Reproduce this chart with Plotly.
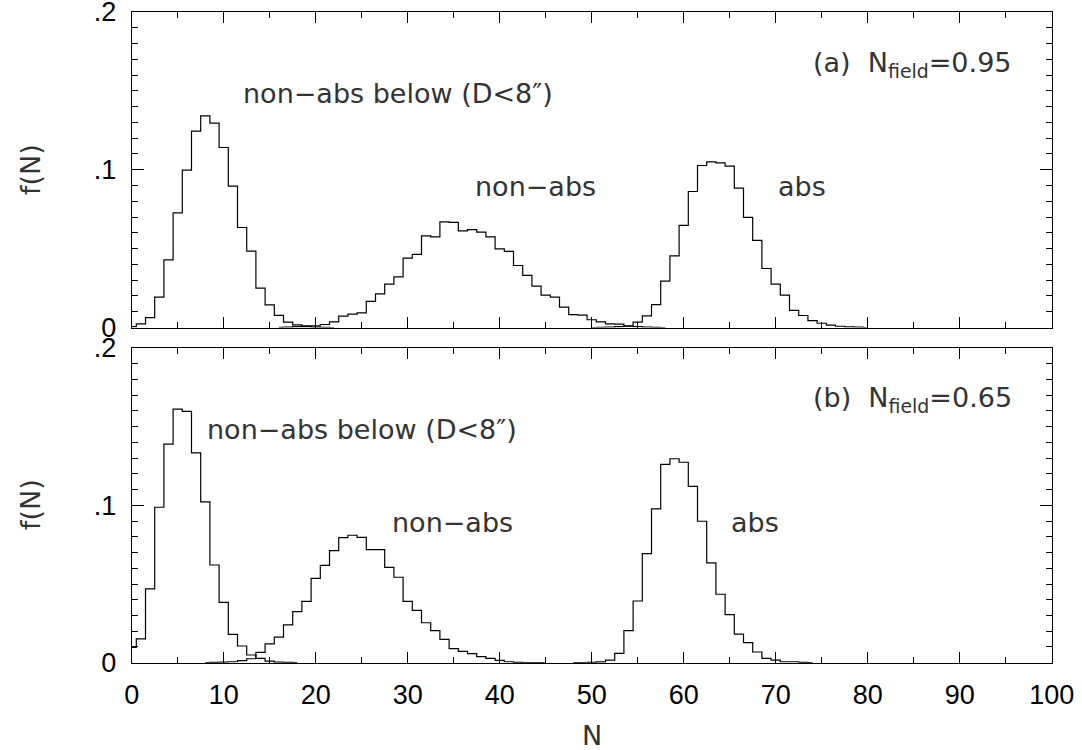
import plotly.graph_objects as go

# ---------------- data (bin centres N, fraction f(N)) ----------------
# Panel (a)  N_field = 0.95
below_a_start = 0
below_a = [0.0006, 0.0023, 0.0063, 0.0192, 0.0429, 0.0727, 0.0998, 0.1245, 0.1342, 0.1296,
           0.1141, 0.0896, 0.0634, 0.0484, 0.0249, 0.0144, 0.0077, 0.0034, 0.0017, 0.0006,
           0.0003, 0.0001, 0.0]
nonabs_a_start = 16
nonabs_a = [0.0001, 0.0003, 0.0005, 0.0010, 0.0010, 0.0019, 0.0036, 0.0072, 0.0085, 0.0093,
            0.0165, 0.0213, 0.0275, 0.0321, 0.0440, 0.0463, 0.0581, 0.0575, 0.0670, 0.0666,
            0.0613, 0.0620, 0.0605, 0.0575, 0.0499, 0.0482, 0.0393, 0.0330, 0.0262, 0.0205,
            0.0192, 0.0129, 0.0082, 0.0078, 0.0049, 0.0036, 0.0023, 0.0021, 0.0008, 0.0006,
            0.0003, 0.0001, 0.0]
abs_a_start = 50
abs_a = [0.0, 0.0001, 0.0002, 0.0005, 0.0010, 0.0034, 0.0074, 0.0145, 0.0294, 0.0454,
         0.0647, 0.0862, 0.1027, 0.1050, 0.1044, 0.1023, 0.0884, 0.0698, 0.0552, 0.0374,
         0.0275, 0.0205, 0.0108, 0.0076, 0.0044, 0.0027, 0.0015, 0.0008, 0.0004, 0.0002, 0.0]

# Panel (b)  N_field = 0.65
below_b_start = 0
below_b = [0.0098, 0.0151, 0.0469, 0.0988, 0.1389, 0.1612, 0.1597, 0.1334, 0.1022, 0.0621,
           0.0384, 0.0180, 0.0106, 0.0049, 0.0027, 0.0010, 0.0004, 0.0002, 0.0]
nonabs_b_start = 8
nonabs_b = [0.0, 0.0002, 0.0004, 0.0006, 0.0013, 0.0025, 0.0066, 0.0120, 0.0162, 0.0240,
            0.0324, 0.0390, 0.0536, 0.0619, 0.0712, 0.0795, 0.0810, 0.0797, 0.0719, 0.0719,
            0.0606, 0.0543, 0.0390, 0.0333, 0.0254, 0.0204, 0.0148, 0.0090, 0.0072, 0.0058,
            0.0038, 0.0028, 0.0015, 0.0006, 0.0002, 0.0001, 0.0001, 0.0]
abs_b_start = 48
abs_b = [0.0, 0.0001, 0.0002, 0.0005, 0.0017, 0.0059, 0.0204, 0.0392, 0.0693, 0.0978,
         0.1260, 0.1296, 0.1274, 0.1120, 0.0899, 0.0634, 0.0435, 0.0305, 0.0182, 0.0127,
         0.0068, 0.0028, 0.0017, 0.0006, 0.0006, 0.0002, 0.0]

y_tickvals = [0, 0.1, 0.2]
y_ticktext = ["0", ".1", ".2"]
x_tickvals = [0, 10, 20, 30, 40, 50, 60, 70, 80, 90, 100]

label_a = "(a)&nbsp; N<sub>field</sub>=0.95"
label_b = "(b)&nbsp; N<sub>field</sub>=0.65"
lbl_below = "non\u2212abs below (D<8\u2033)"
lbl_nonabs = "non\u2212abs"
lbl_abs = "abs"

# ---------------- figure ----------------
W, H = 1082, 750
fig = go.Figure()

def add_hist(start, vals, xa, ya):
    xs = list(range(start, start + len(vals)))
    fig.add_trace(go.Scatter(x=xs, y=vals, mode="lines", line=dict(shape="hvh", color="black", width=1.2),
                             xaxis=xa, yaxis=ya, showlegend=False, hoverinfo="skip"))

add_hist(below_a_start, below_a, "x", "y")
add_hist(nonabs_a_start, nonabs_a, "x", "y")
add_hist(abs_a_start, abs_a, "x", "y")
add_hist(below_b_start, below_b, "x2", "y2")
add_hist(nonabs_b_start, nonabs_b, "x2", "y2")
add_hist(abs_b_start, abs_b, "x2", "y2")

x_left, x_right = 131.7, 1051.7
ya_top, ya_bot = 12.0, 327.5
yb_top, yb_bot = 348.0, 662.7

xdom = [x_left / W, x_right / W]
ydom_a = [1 - ya_bot / H, 1 - ya_top / H]
ydom_b = [1 - yb_bot / H, 1 - yb_top / H]

common_x = dict(range=[0, 100], tickvals=x_tickvals, ticks="inside", ticklen=11, tickwidth=1,
                tickcolor="black", mirror="allticks", showline=True, linecolor="black", linewidth=1,
                showgrid=False, zeroline=False, automargin=False, ticklabeloverflow="allow",
                minor=dict(dtick=5, tick0=0, ticks="inside", ticklen=5.5, tickcolor="black", showgrid=False))
common_y = dict(range=[0, 0.2], tickvals=y_tickvals, ticktext=y_ticktext, ticks="inside", ticklen=12,
                tickwidth=1, tickcolor="black", mirror="allticks", showline=True, linecolor="black",
                linewidth=1, showgrid=False, zeroline=False, ticklabelstandoff=9, automargin=False,
                ticklabeloverflow="allow",
                minor=dict(dtick=0.01, tick0=0, ticks="inside", ticklen=6, tickcolor="black", showgrid=False))

fig.update_layout(
    width=W, height=H,
    margin=dict(l=0, r=0, t=0, b=0, pad=0, autoexpand=False),
    paper_bgcolor="white", plot_bgcolor="white",
    font=dict(family="Liberation Sans, Arial, sans-serif", size=27, color="black"),
    xaxis=dict(domain=xdom, anchor="y", showticklabels=False, **common_x),
    yaxis=dict(domain=ydom_a, anchor="x", **common_y),
    xaxis2=dict(domain=xdom, anchor="y2", showticklabels=True, ticklabelstandoff=8, **common_x),
    yaxis2=dict(domain=ydom_b, anchor="x2", **common_y),
)

afont = dict(family="DejaVu Sans, sans-serif", size=27, color="#333333")

def px_to_x(px):
    return (px - x_left) / (x_right - x_left) * 100.0

def py_to_y(py, top, bot):
    return (bot - py) / (bot - top) * 0.2

def ann(text, px, py, panel, xanchor="center"):
    if panel == "a":
        xr, yr, y = "x", "y", py_to_y(py, ya_top, ya_bot)
    else:
        xr, yr, y = "x2", "y2", py_to_y(py, yb_top, yb_bot)
    fig.add_annotation(text=text, x=px_to_x(px), y=y, xref=xr, yref=yr, showarrow=False,
                       xanchor=xanchor, yanchor="middle", font=afont)

ann(lbl_below, 241, 93, "a", xanchor="left")
ann(lbl_nonabs, 535, 186, "a")
ann(lbl_abs, 802, 186, "a")
ann(label_a, 1014, 64, "a", xanchor="right")

ann(lbl_below, 205, 429, "b", xanchor="left")
ann(lbl_nonabs, 452, 522, "b")
ann(lbl_abs, 755, 522, "b")
ann(label_b, 1014, 399, "b", xanchor="right")

# axis titles
for yc in (170, 505):
    fig.add_annotation(text="f(N)", x=30 / W, y=1 - yc / H, xref="paper", yref="paper", showarrow=False,
                       textangle=-90, xanchor="center", yanchor="middle", font=afont)
fig.add_annotation(text="N", x=592 / W, y=1 - 735 / H, xref="paper", yref="paper", showarrow=False,
                   xanchor="center", yanchor="middle", font=afont)

fig.write_html("out.html", config={"displayModeBar": False},
               post_script="document.body.style.margin='0';document.body.style.overflow='hidden';")
